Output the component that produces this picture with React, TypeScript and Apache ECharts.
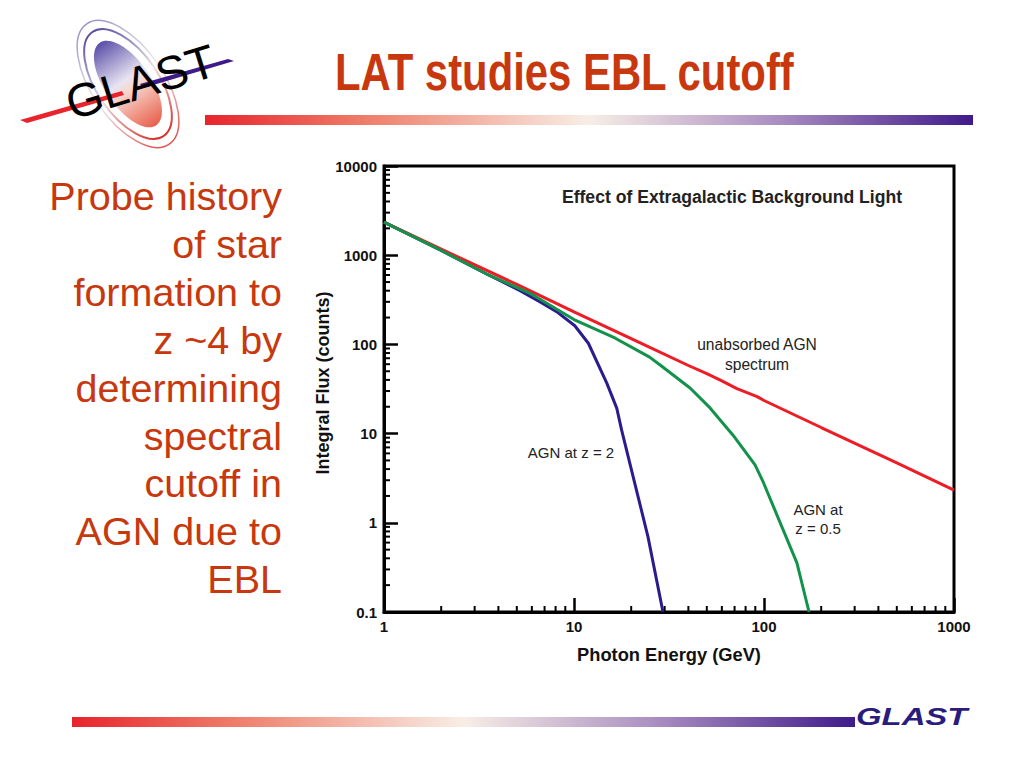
import React, { useEffect, useRef } from "react";
import * as echarts from "echarts";

const unabsorbed: [number, number][] = [[1,2350],[2,1170],[5,470],[10,232],[20,116],[40,58],[50,47],[60,39],[72,32],[92,26],[100,23.5],[200,11.7],[500,4.7],[1000,2.33]];
const agnZ05: [number, number][] = [[1,2350],[2,1130],[3.47,615],[5.87,374],[10,190],[16.4,118],[25,72],[28.4,58.7],[40.8,32.4],[52,19.4],[68.7,9.6],[89.7,4.45],[99,2.87],[149,0.355],[172.6,0.1]];
const agnZ2: [number, number][] = [[1,2350],[2,1130],[3.47,615],[5.2,400],[6.6,301],[8.1,233],[10.1,162],[11.9,103],[14.9,36.6],[16.8,19.2],[17.8,11],[24.5,0.7],[29.4,0.1]];
const xMinorTicks = [2,3,4,5,6,7,8,9,20,30,40,50,60,70,80,90,200,300,400,500,600,700,800,900];
const yMinorTicks = [0.2,0.3,0.4,0.5,0.6,0.7,0.8,0.9,2,3,4,5,6,7,8,9,20,30,40,50,60,70,80,90,200,300,400,500,600,700,800,900,2000,3000,4000,5000,6000,7000,8000,9000];
const bulletLines = ["Probe history","of star","formation to","z ~4 by","determining","spectral","cutoff in","AGN due to","EBL"];

const SANS = "'Liberation Sans', Arial, sans-serif";
const ORANGE = "#c8380e";
const barGradient = () => new echarts.graphic.LinearGradient(0, 0, 1, 0, [
  { offset: 0, color: "#e8242c" },
  { offset: 0.2, color: "#ee7a66" },
  { offset: 0.5, color: "#f8eee6" },
  { offset: 0.75, color: "#a88cc0" },
  { offset: 1, color: "#3f1a8a" },
]);

export default function App() {
  const ref = useRef<HTMLDivElement>(null);
  useEffect(() => {
    const chart = echarts.init(ref.current!, null, { renderer: "svg" });
    const tick = (horizontal: boolean) => (_: any, api: any) => {
      const p = horizontal ? api.coord([api.value(0), 0.1]) : api.coord([1, api.value(0)]);
      const shape = horizontal
        ? { x1: p[0], y1: p[1], x2: p[0], y2: p[1] - 6 }
        : { x1: p[0], y1: p[1], x2: p[0] + 6, y2: p[1] };
      return { type: "line", shape, style: { stroke: "#000", lineWidth: 2 } };
    };
    const lineSeries = (data: [number, number][], color: string) => ({
      type: "line", data, showSymbol: false, smooth: false,
      lineStyle: { color, width: 3 }, itemStyle: { color }, z: 3,
    });
    const label = (text: string, x: number, y: number, bold = false, size = 15) => ({
      type: "text", x, y,
      style: { text, x: 0, y: 0, align: "center", verticalAlign: "middle", fill: "#222", font: `${bold ? "bold " : ""}${size}px ${SANS}` },
    });
    chart.setOption({
      animation: false,
      backgroundColor: "#fff",
      grid: { left: 384, top: 166, width: 570, height: 446, show: true, borderColor: "#000", borderWidth: 3, backgroundColor: "transparent" },
      xAxis: {
        type: "log", logBase: 10, min: 1, max: 1000,
        name: "Photon Energy (GeV)", nameLocation: "middle", nameGap: 33, nameMoveOverlap: false,
        nameTextStyle: { fontWeight: "bold", fontSize: 18.3, fontFamily: SANS, color: "#111" },
        axisLine: { onZero: false, lineStyle: { color: "#000", width: 3 } },
        axisTick: { inside: true, length: 14, lineStyle: { color: "#000", width: 2.5 } },
        minorTick: { show: false }, splitLine: { show: false },
        axisLabel: { fontFamily: SANS, fontWeight: "bold", fontSize: 15, color: "#111", margin: 7, showMinLabel: true, showMaxLabel: true, formatter: (v: number) => String(v) },
      },
      yAxis: {
        type: "log", logBase: 10, min: 0.1, max: 10000,
        name: "Integral Flux (counts)", nameLocation: "middle", nameGap: 52, nameMoveOverlap: false,
        nameTextStyle: { fontWeight: "bold", fontSize: 18, fontFamily: SANS, color: "#111", padding: [0, 0, 0, 12] },
        axisLine: { onZero: false, lineStyle: { color: "#000", width: 3 } },
        axisTick: { inside: true, length: 14, lineStyle: { color: "#000", width: 2.5 } },
        minorTick: { show: false }, splitLine: { show: false },
        axisLabel: { fontFamily: SANS, fontWeight: "bold", fontSize: 15, color: "#111", margin: 7, showMinLabel: true, showMaxLabel: true, formatter: (v: number) => String(v) },
      },
      series: [
        { type: "custom", data: xMinorTicks.map((v) => [v]), renderItem: tick(true), clip: false, encode: { x: 0 }, silent: true, z: 2 },
        { type: "custom", data: yMinorTicks.map((v) => [v]), renderItem: tick(false), clip: false, encode: { y: 0 }, silent: true, z: 2 },
        lineSeries(agnZ2, "#2a1c8c"),
        lineSeries(unabsorbed, "#ee1c25"),
        lineSeries(agnZ05, "#12924a"),
      ],
      graphic: [
        { type: "text", x: 335, y: 72, scaleX: 0.805, style: { text: "LAT studies EBL cutoff", x: 0, y: 0, verticalAlign: "middle", fill: ORANGE, font: `bold 52px ${SANS}` } },
        { type: "rect", shape: { x: 205, y: 115, width: 768, height: 10 }, style: { fill: barGradient() } },
        { type: "rect", shape: { x: 72, y: 717, width: 783, height: 10 }, style: { fill: barGradient() } },
        { type: "text", x: 856, y: 717, scaleX: 1.37, style: { text: "GLAST", x: 0, y: 0, verticalAlign: "middle", fill: "#2a1c7c", font: `italic bold 24px ${SANS}` } },
        ...bulletLines.map((t, i) => ({
          type: "text", x: 282, y: 196 + i * 47.9,
          style: { text: t, x: 0, y: 0, align: "right", verticalAlign: "middle", fill: ORANGE, font: `39.5px ${SANS}` },
        })),
        label("Effect of Extragalactic Background Light", 732, 197, true, 17.6),
        label("unabsorbed AGN", 757, 344, false, 15.6),
        label("spectrum", 757, 364, false, 15.6),
        label("AGN at z = 2", 571, 452),
        label("AGN at", 818, 509),
        label("z = 0.5", 818, 528),
        // GLAST logo
        { type: "ellipse", x: 128, y: 84, rotation: 0.6, shape: { cx: 0, cy: 0, rx: 23, ry: 50 }, style: { fill: new echarts.graphic.LinearGradient(0, 0, 0, 1, [{ offset: 0, color: "#5a4ea8" }, { offset: 0.45, color: "#e8e4f2" }, { offset: 0.55, color: "#f8d8d0" }, { offset: 1, color: "#e8604c" }]) } },
        { type: "ellipse", x: 128, y: 84, rotation: 0.6, shape: { cx: 0, cy: 0, rx: 31, ry: 63 }, style: { fill: "none", lineWidth: 2, stroke: new echarts.graphic.LinearGradient(0, 0, 0, 1, [{ offset: 0, color: "#5a4ea0" }, { offset: 0.5, color: "#e8e0e8" }, { offset: 1, color: "#d8302c" }]) } },
        { type: "ellipse", x: 128, y: 84, rotation: 0.6, shape: { cx: 0, cy: 0, rx: 36, ry: 73 }, style: { fill: "none", lineWidth: 1.5, stroke: new echarts.graphic.LinearGradient(0, 0, 0, 1, [{ offset: 0, color: "#9a94c8" }, { offset: 0.5, color: "#eee" }, { offset: 1, color: "#e0504c" }]) } },
        { type: "polygon", shape: { points: [[20,120],[122,91],[124,95],[27,123]] }, style: { fill: "#e8242c" } },
        { type: "polygon", shape: { points: [[140,84],[228,59],[234,61],[143,88]] }, style: { fill: "#3f1a8a" } },
        { type: "text", x: 74, y: 127, rotation: 0.3, style: { text: "GLAST", x: 0, y: 0, verticalAlign: "bottom", fill: "#000", font: `47px ${SANS}` } },
      ],
    });
    return () => chart.dispose();
  }, []);
  return <div ref={ref} style={{ position: "fixed", left: 0, top: 0, width: 1024, height: 768 }} />;
}
